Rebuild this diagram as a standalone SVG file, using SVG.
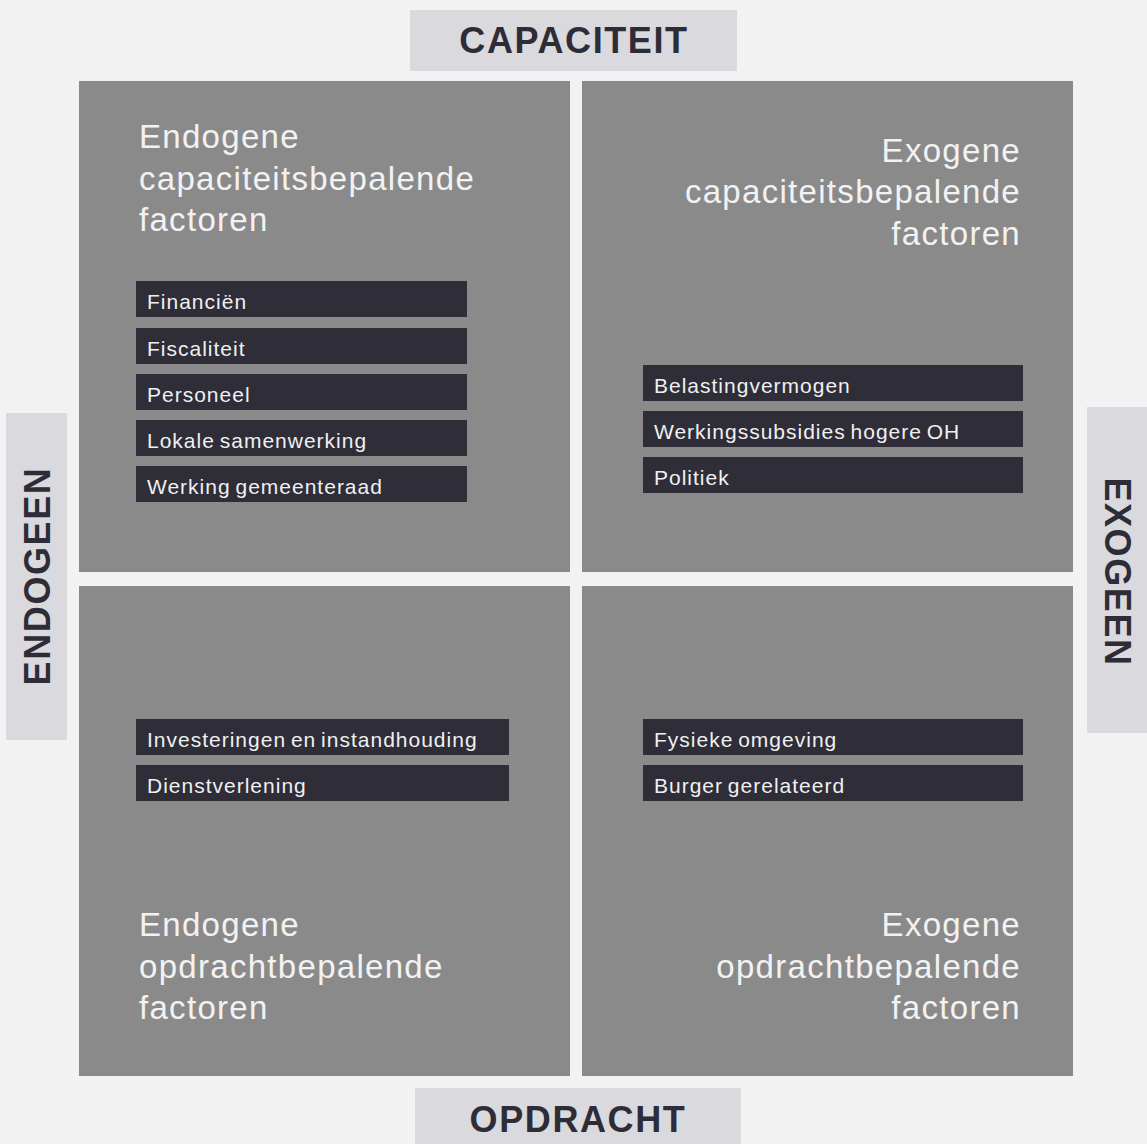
<svg xmlns="http://www.w3.org/2000/svg" width="1147" height="1144" viewBox="0 0 1147 1144">
  <style>
    .bg { fill: #f2f2f2; }
    .quad { fill: #8a8a8b; }
    .axis { fill: #d9d9de; }
    .axis-text { font-family: "Liberation Sans", Arial, sans-serif; font-weight: bold; font-size: 36px; letter-spacing: 1.6px; fill: #2d2c37; text-anchor: middle; }
    .title { font-family: "Liberation Sans", Arial, sans-serif; font-size: 33px; letter-spacing: 1.3px; fill: #f2f2f2; }
    .title.right { text-anchor: end; }
    .chip { fill: #2e2d38; }
    .chip-text { font-family: "Liberation Sans", Arial, sans-serif; font-size: 21px; letter-spacing: 1px; word-spacing: -2px; fill: #f0f0f0; }
  </style>

  <rect class="bg" x="0" y="0" width="1147" height="1144"/>

  <!-- axis labels -->
  <g id="axis-capaciteit">
    <rect class="axis" x="410" y="10" width="327" height="61"/>
    <text class="axis-text" x="574" y="53">CAPACITEIT</text>
  </g>
  <g id="axis-opdracht">
    <rect class="axis" x="415" y="1088" width="326" height="56"/>
    <text class="axis-text" x="578" y="1132">OPDRACHT</text>
  </g>
  <g id="axis-endogeen">
    <rect class="axis" x="6" y="413" width="61" height="327"/>
    <text class="axis-text" transform="translate(50,576) rotate(-90)">ENDOGEEN</text>
  </g>
  <g id="axis-exogeen">
    <rect class="axis" x="1087" y="407" width="60" height="326"/>
    <text class="axis-text" transform="translate(1105,572) rotate(90)">EXOGEEN</text>
  </g>

  <!-- top-left quadrant -->
  <g id="endogene-capaciteit">
    <rect class="quad" x="79" y="81" width="491" height="491"/>
    <text class="title" x="139" y="148">Endogene</text>
    <text class="title" x="139" y="190">capaciteitsbepalende</text>
    <text class="title" x="139" y="231">factoren</text>
    <rect class="chip" x="136" y="281" width="331" height="36"/>
    <text class="chip-text" x="147" y="309">Financiën</text>
    <rect class="chip" x="136" y="328" width="331" height="36"/>
    <text class="chip-text" x="147" y="356">Fiscaliteit</text>
    <rect class="chip" x="136" y="374" width="331" height="36"/>
    <text class="chip-text" x="147" y="402">Personeel</text>
    <rect class="chip" x="136" y="420" width="331" height="36"/>
    <text class="chip-text" x="147" y="448">Lokale samenwerking</text>
    <rect class="chip" x="136" y="466" width="331" height="36"/>
    <text class="chip-text" x="147" y="494">Werking gemeenteraad</text>
  </g>

  <!-- top-right quadrant -->
  <g id="exogene-capaciteit">
    <rect class="quad" x="582" y="81" width="491" height="491"/>
    <text class="title right" x="1021" y="162">Exogene</text>
    <text class="title right" x="1021" y="203">capaciteitsbepalende</text>
    <text class="title right" x="1021" y="245">factoren</text>
    <rect class="chip" x="643" y="365" width="380" height="36"/>
    <text class="chip-text" x="654" y="393">Belastingvermogen</text>
    <rect class="chip" x="643" y="411" width="380" height="36"/>
    <text class="chip-text" x="654" y="439">Werkingssubsidies hogere OH</text>
    <rect class="chip" x="643" y="457" width="380" height="36"/>
    <text class="chip-text" x="654" y="485">Politiek</text>
  </g>

  <!-- bottom-left quadrant -->
  <g id="endogene-opdracht">
    <rect class="quad" x="79" y="586" width="491" height="490"/>
    <rect class="chip" x="136" y="719" width="373" height="36"/>
    <text class="chip-text" x="147" y="747">Investeringen en instandhouding</text>
    <rect class="chip" x="136" y="765" width="373" height="36"/>
    <text class="chip-text" x="147" y="793">Dienstverlening</text>
    <text class="title" x="139" y="936">Endogene</text>
    <text class="title" x="139" y="978">opdrachtbepalende</text>
    <text class="title" x="139" y="1019">factoren</text>
  </g>

  <!-- bottom-right quadrant -->
  <g id="exogene-opdracht">
    <rect class="quad" x="582" y="586" width="491" height="490"/>
    <rect class="chip" x="643" y="719" width="380" height="36"/>
    <text class="chip-text" x="654" y="747">Fysieke omgeving</text>
    <rect class="chip" x="643" y="765" width="380" height="36"/>
    <text class="chip-text" x="654" y="793">Burger gerelateerd</text>
    <text class="title right" x="1021" y="936">Exogene</text>
    <text class="title right" x="1021" y="978">opdrachtbepalende</text>
    <text class="title right" x="1021" y="1019">factoren</text>
  </g>

  <g id="connectors"/>
</svg>
